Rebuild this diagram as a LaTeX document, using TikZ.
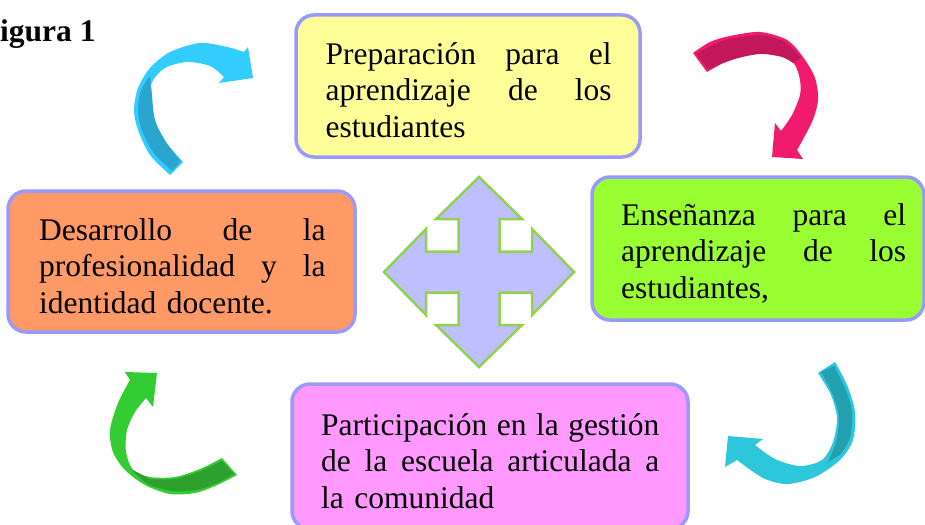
\documentclass[tikz,border=0pt]{standalone}
\usepackage{fontspec}
\setmainfont{Liberation Serif}
\usepackage{xcolor}
\usepackage{tikz}

\definecolor{boxline}{HTML}{9999FF}
\definecolor{prepfill}{HTML}{FFFF99}
\definecolor{ensfill}{HTML}{99FF33}
\definecolor{desfill}{HTML}{FF9966}
\definecolor{partfill}{HTML}{FF99FF}
\definecolor{crossfill}{HTML}{BFBFFF}
\definecolor{crossline}{HTML}{92D050}
\definecolor{cyanl}{HTML}{33CCFF}
\definecolor{cyand}{HTML}{29A5CF}
\definecolor{pinkl}{HTML}{F01A6E}
\definecolor{pinkd}{HTML}{C3175B}
\definecolor{greenl}{HTML}{33CC33}
\definecolor{greend}{HTML}{2DA02D}
\definecolor{teall}{HTML}{2DC6DA}
\definecolor{teald}{HTML}{239FAF}

\begin{document}
\begin{tikzpicture}[x=1pt,y=-1pt,
       box/.style={draw=boxline,line width=3.5pt,rounded corners=18pt,outer sep=0pt,inner sep=0pt},
       txt/.style={font=\fontsize{31.5}{36.5}\selectfont,align=left,inner sep=0pt,anchor=base west}]
       \useasboundingbox (0,0) rectangle (925,524);
       \clip (0,0) rectangle (925,524);

       \node[box,fill=prepfill,minimum width=344pt,minimum height=142pt] (prep) at (468,86) {};
       \node[box,fill=ensfill,minimum width=332pt,minimum height=143pt] (ens) at (758,248.5) {};
       \node[box,fill=desfill,minimum width=347pt,minimum height=141pt] (des) at (181.5,261.5) {};
       \node[box,fill=partfill,minimum width=396pt,minimum height=145pt] (part) at (490,456.5) {};

       \node[txt,text width=286pt] (prept) at ([shift={(29.5pt,-49.5pt)}]prep.north west)
           {Preparación\hfill para\hfill el\\aprendizaje\hfill de\hfill los\\estudiantes};
       \node[txt,text width=285pt] (enst) at ([shift={(29pt,-48pt)}]ens.north west)
           {Enseñanza\hfill para\hfill el\\aprendizaje\hfill de\hfill los\\estudiantes,};
       \node[txt,text width=286.5pt] (dest) at ([shift={(31pt,-49pt)}]des.north west)
           {Desarrollo\hfill de\hfill la\\profesionalidad\hfill y\hfill la\\identidad docente.};
       \node[txt,text width=338pt] (partt) at ([shift={(29pt,-51pt)}]part.north west)
           {Participación\hfill en\hfill la\hfill gestión\\de\hfill la\hfill escuela\hfill articulada\hfill a\\la comunidad};

       \node[font=\fontsize{31.5}{36}\selectfont\bfseries,inner sep=0pt,anchor=base west] (fig) at (0,42) {igura 1};

       \begin{scope}[shift={(479,272)}]
       \draw[fill=crossfill,draw=crossline,line width=2.5pt] ([rotate=90]20.5,20.5)
           foreach \a in {0,-90,-180,-270} {
             -- ([rotate=\a]53,-20.5) -- ([rotate=\a]53,-43) -- ([rotate=\a]95,0)
             -- ([rotate=\a]53,43) -- ([rotate=\a]53,20.5) -- ([rotate=\a]20.5,20.5)
           } -- cycle;
       \end{scope}

       \fill[cyanl] plot[smooth] coordinates {(170,175) (150,155) (138,130) (134,110) (138,88) (150,68) (170,52) (200,43) (227,47) (244,52)}
           -- (248,47) -- (253,78) -- (219,83)
           -- plot[smooth] coordinates {(224,77) (210,66) (187,62) (165,68) (152,82) (149,102) (155,124) (167,144) (183,162)} -- cycle;
       \fill[cyand] plot[smooth] coordinates {(172,171) (153,152) (141,128) (138,108) (141,90) (150,76)}
           -- plot[smooth] coordinates {(152,95) (155,120) (166,142) (181,161)} -- cycle;

       \fill[pinkl] plot[smooth] coordinates {(693,53) (710,42) (730,36) (760,32) (787,40) (803,57) (815,78) (818,100) (812,122) (797,150)}
           -- (803,159) -- (772,157) -- (775,123)
           -- plot[smooth] coordinates {(781,131) (792,115) (800,95) (800,80) (795,65) (783,55) (760,52) (735,57) (707,72)} -- cycle;
       \fill[pinkd] plot[smooth] coordinates {(696,54) (712,45) (730,39) (760,35) (785,42) (801,58)}
           -- plot[smooth] coordinates {(793,63) (782,57) (760,54) (735,59) (708,69)} -- cycle;

       \fill[greenl] plot[smooth] coordinates {(237,475) (215,486) (195,493) (170,494) (145,485) (125,470) (113,452) (110,430) (118,403) (130,380)}
           -- (125,372) -- (157,373) -- (153,407)
           -- plot[smooth] coordinates {(146,398) (135,412) (127,430) (126,452) (133,470) (150,477) (175,477) (200,469) (222,458)} -- cycle;
       \fill[greend] plot[smooth] coordinates {(131,469) (148,484) (172,491) (197,490) (217,483) (234,474)}
           -- plot[smooth] coordinates {(222,461) (200,471) (175,479) (150,479)} -- cycle;

       \fill[teall] plot[smooth] coordinates {(835,362) (847,385) (855,412) (853,440) (840,460) (815,477) (787,484) (763,478) (737,460)}
           -- (725,467) -- (728,436) -- (763,439)
           -- plot[smooth] coordinates {(755,445) (775,459) (800,466) (822,460) (833,442) (837,418) (831,395) (818,373)} -- cycle;
       \fill[teald] plot[smooth] coordinates {(821,372) (833,395) (839,418) (836,442) (828,462)}
           -- plot[smooth] coordinates {(840,455) (850,438) (852,412) (845,388) (834,366)} -- cycle;
    \end{tikzpicture}
\end{document}
